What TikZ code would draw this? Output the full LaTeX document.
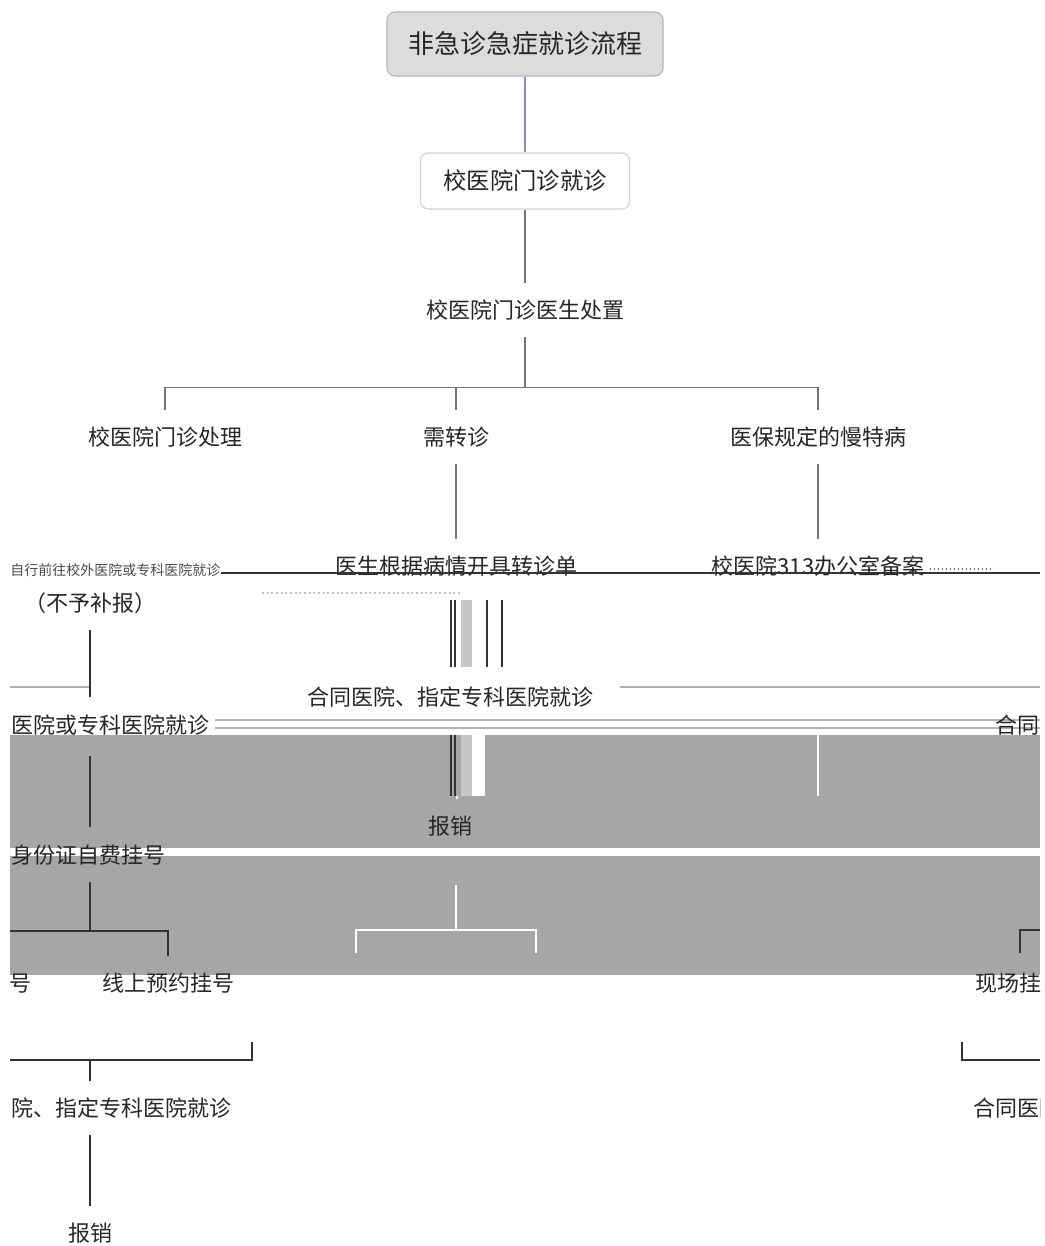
\documentclass[tikz,border=0pt]{standalone}
\usepackage{fontspec}
\setmainfont{Noto Sans CJK SC}
\definecolor{bandgray}{HTML}{A6A6A6}
\definecolor{rootfill}{HTML}{DCDCDC}
\definecolor{rootline}{HTML}{B4B4B4}
\definecolor{linkpurple}{HTML}{8C8CB4}
\begin{document}
\begin{tikzpicture}[x=0.75pt,y=-0.75pt,
  rootbox/.style={draw=rootline, fill=rootfill, rounded corners=6pt, line width=0.8pt,
    minimum width=207pt, minimum height=48pt, inner sep=0pt,
    font=\fontsize{19.5}{22}\selectfont, text=black!85},
  subbox/.style={draw=black!18, fill=white, rounded corners=6pt, line width=0.8pt,
    minimum width=157pt, minimum height=42pt, inner sep=0pt,
    font=\fontsize{17.5}{20}\selectfont, text=black!85},
  lvl/.style={inner sep=0pt, minimum height=40.5pt, font=\fontsize{16.5}{19}\selectfont, text=black!85},
  small/.style={inner sep=0pt, font=\fontsize{10.5}{12}\selectfont, text=black!70},
  ln/.style={draw=black!55, line width=1pt},
  dk/.style={draw=black!80, line width=1.2pt},
  lg/.style={draw=black!30, line width=1pt},
  wl/.style={draw=white, line width=1.5pt}]
\useasboundingbox (0,0) rectangle (1045,1246);
\fill[white] (0,0) rectangle (1045,1246);

% gray bands
\fill[bandgray] (10,735) rectangle (1040,848);
\fill[bandgray] (10,856) rectangle (1040,975);

% top part
\node[rootbox] (root) at (525,44) {非急诊急症就诊流程};
\node[subbox] (clinic) at (525,181) {校医院门诊就诊};
\node[lvl] (doctor) at (525,310) {校医院门诊医生处置};
\draw[draw=linkpurple, line width=1pt] (root.south) -- (clinic.north);
\draw[ln] (clinic.south) -- (doctor.north);

\node[lvl] (treat) at (165,437) {校医院门诊处理};
\node[lvl] (refer) at (456,437) {需转诊};
\node[lvl] (chronic) at (818,437) {医保规定的慢特病};
\draw[ln] (doctor.south) -- ++(0,50) coordinate (fork);
\draw[ln] (fork -| treat.north) -- (fork -| chronic.north);
\draw[ln] (fork -| treat.north) -- (treat.north);
\draw[ln] (fork -| refer.north) -- (refer.north);
\draw[ln] (fork -| chronic.north) -- (chronic.north);

\node[lvl] (slip) at (456,566) {医生根据病情开具转诊单};
\node[lvl] (office) at (818,566) {校医院313办公室备案};
\draw[ln] (refer.south) -- (slip.north);
\draw[ln] (chronic.south) -- (office.north);

\begin{scope}
\clip (10,0) rectangle (1040,1246);
% left garbled row
\node[small, anchor=west] (self) at (10,570) {自行前往校外医院或专科医院就诊};
\node[lvl] (nopay) at (90,603) {（不予补报）};
\draw[dk, line width=1pt] (self.east |- 0,573) -- (1040,573);
\draw[black!60, dotted, line width=1pt] (930,569) -- (992,569);
\draw[black!25, dotted, line width=1.5pt] (262,593) -- (460,593);
\draw[lg] (10,687) -- (90,687);
\draw[dk] (nopay.south) -- (90,697);

% middle glitch connector
\fill[white] (461,600) rectangle (485,667);
\fill[black!22] (461,600) rectangle (472,667);
\draw[dk] (451,600) -- (451,667);
\draw[dk] (455,600) -- (455,667);
\draw[dk] (487,600) -- (487,667);
\draw[dk] (502,600) -- (502,667);

\node[lvl] (contract) at (450,697) {合同医院、指定专科医院就诊};
\draw[lg] (620,687) -- (1040,687);

\node[lvl, anchor=west] (hosp) at (11,725) {医院或专科医院就诊};
\draw[lg] (215,720) -- (1040,720);
\draw[lg] (215,728) -- (1040,728);
\node[lvl, anchor=west] (contractR) at (995,725) {合同医院、指定专科医院就诊};

% band 1 details
\fill[white] (461,735) rectangle (485,796);
\fill[black!22] (461,735) rectangle (472,796);
\draw[dk] (451,735) -- (451,796);
\draw[dk] (455,735) -- (455,796);
\draw[wl] (818,735) -- (818,796);
\node[lvl] (claim) at (450,826) {报销};
\draw[wl] (457,796) -- (claim.north -| 457,0);

\node[lvl] (idreg) at (89,855) {身份证自费挂号};
\draw[dk] (hosp.south -| 90,0) ++(0,4) -- (90,827);

% band 2 details
\node[lvl, anchor=east] (onsiteL) at (32,983) {现场挂号};
\node[lvl] (online) at (168,983) {线上预约挂号};
\draw[dk] (idreg.south -| 90,0) -- ++(0,49) coordinate (fork2);
\draw[dk] (fork2 -| 10,0) -- (fork2 -| online.north) -- (online.north);
\draw[wl] (456,885) -- (456,930) coordinate (fork3);
\draw[wl] (356,953) -- (fork3 -| 356,0) -- (fork3 -| 536,0) -- (536,953);
\node[lvl, anchor=west] (onsiteR) at (975,983) {现场挂号};
\draw[dk] (1020,953) -- (1020,930) -- (1040,930);

% bottom part
\node[lvl, anchor=east] (contractL) at (232,1108) {合同医院、指定专科医院就诊};
\node[lvl] (claimL) at (90,1233) {报销};
\draw[dk] (252,1042) -- (252,1060) -- (10,1060);
\draw[dk] (claimL.north |- 0,1060) -- (claimL.north |- contractL.north);
\node[lvl, anchor=west] (contractB) at (973,1108) {合同医院、指定专科医院就诊};
\draw[dk] (962,1042) -- (962,1060) -- (1040,1060);
\draw[dk] (claimL.north |- contractL.south) -- (claimL.north);
\end{scope}
\end{tikzpicture}
\end{document}
